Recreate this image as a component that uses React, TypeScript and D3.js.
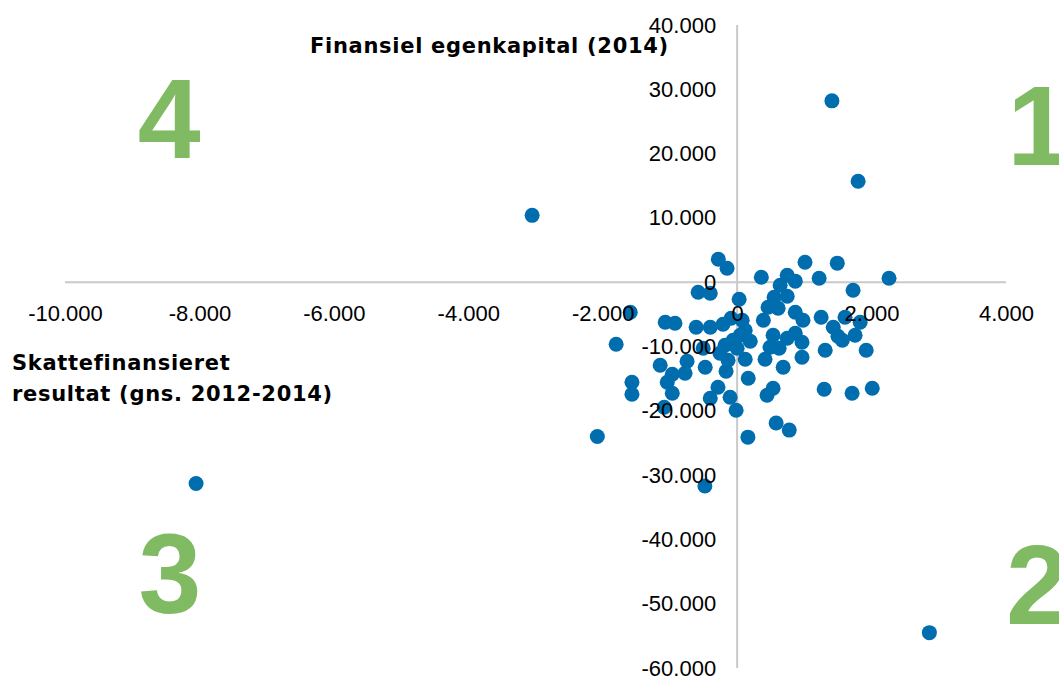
import { useEffect, useRef } from "react";
import * as d3 from "d3";

// Skattefinansieret resultat (gns. 2012-2014), kr. pr. indbygger
const resultat = [
  1410, 1800, -3050, -8050, 2860, -2080, -480, 160, 580, 775,
  -280, -150, 360, 745, 865, 1010, 1220, 1490, 2260, 640, 1725,
  -580, -400, 30, 550, 745,
  -1590, 460, 610, 865, 980, 390, 75, -90, -210, -400, -610, -925, -1070,
  1250, 1605, 1830, 1430, 1500, 1755, 1565,
  -1800,
  535, 865, 745, 965, 490, 625, 1310, 1920,
  120, 45, -60, 195, 0, -180, -255, -505,
  120, 415, 965, -135,
  685, -1145, -745, -475, -965, -775, -1040, -165, 165,
  -1565, -1565, -965, -285, -400, -105, -15, -1085,
  535, 445, 1295, 1710, 2010,
];

// Finansiel egenkapital (2014), kr. pr. indbygger
const egenkapital = [
  28200, 15700, 10400, -31300, -54500, -24000, -31700, -24100, -21900, -23000,
  3580, 2180, 780, 1090, 160, 3110, 620, 2960, 620, -470, -1250,
  -1560, -1710, -2650, -2340, -2180,
  -4670, -3890, -4050, -4670, -5910, -5910, -5910, -5600, -6540, -7000, -7000, -6380, -6230,
  -5450, -5450, -6230, -7000, -8400, -8250, -9030,
  -9650,
  -8250, -7940, -8720, -9340, -10120, -10270, -10580, -10580,
  -7470, -8250, -9030, -9180, -10270, -9800, -11050, -10270,
  -11980, -11980, -11670, -12140,
  -13230, -12920, -12300, -13230, -14320, -14160, -15560, -13850, -14940,
  -15560, -17430, -17280, -16340, -18050, -17900, -19920, -19450,
  -16500, -17590, -16650, -17280, -16500,
];

const xTicks = [-10000, -8000, -6000, -4000, -2000, 0, 2000, 4000];
const yTicks = [40000, 30000, 20000, 10000, 0, -10000, -20000, -30000, -40000, -50000, -60000];

const quadrants = [
  { label: "1", x: 4020, y: 18200, anchor: "start" },
  { label: "2", x: 4000, y: -53200, anchor: "start" },
  { label: "3", x: -8440, y: -51500, anchor: "middle" },
  { label: "4", x: -8450, y: 19300, anchor: "middle" },
];

const da = d3.formatLocale({
  decimal: ",",
  thousands: ".",
  grouping: [3],
  currency: ["", ""],
  minus: "-",
});
const fmt = da.format(",d");

export default function App() {
  const svgRef = useRef<SVGSVGElement>(null);

  useEffect(() => {
    if (!svgRef.current) return;
    const svg = d3.select(svgRef.current);
    svg.selectAll("*").remove();

    const x = d3.scaleLinear().domain([-10000, 4000]).range([65, 1006]);
    const y = d3.scaleLinear().domain([-60000, 40000]).range([668, 25]);

    const axisColor = "#c9c9c9";
    const tickFont = "'Liberation Sans', Arial, sans-serif";
    const titleFont = "'DejaVu Sans', Verdana, sans-serif";

    // quadrant numbers
    svg
      .append("g")
      .selectAll("text")
      .data(quadrants)
      .enter()
      .append("text")
      .attr("x", (d) => x(d.x))
      .attr("y", (d) => y(d.y))
      .attr("text-anchor", (d) => d.anchor)
      .style("font-family", "'Liberation Sans', Arial, sans-serif")
      .style("font-weight", "bold")
      .style("font-size", "113px")
      .style("fill", "#80bb64")
      .text((d) => d.label);

    // axis lines (behind the dots)
    svg
      .append("line")
      .attr("x1", x.range()[0])
      .attr("x2", x.range()[1])
      .attr("y1", y(0))
      .attr("y2", y(0))
      .style("stroke", axisColor)
      .style("stroke-width", 2);
    svg
      .append("line")
      .attr("x1", x(0))
      .attr("x2", x(0))
      .attr("y1", y.range()[0])
      .attr("y2", y.range()[1])
      .style("stroke", axisColor)
      .style("stroke-width", 2);

    // data points
    svg
      .append("g")
      .selectAll("circle")
      .data(resultat.map((r, i) => [r, egenkapital[i]]))
      .enter()
      .append("circle")
      .attr("cx", (d) => x(d[0]))
      .attr("cy", (d) => y(d[1]))
      .attr("r", 7.5)
      .style("fill", "#006dae");

    // tick labels on top of the dots
    const gx = svg
      .append("g")
      .attr("transform", `translate(0,${y(0)})`)
      .call(
        d3
          .axisBottom(x)
          .tickValues(xTicks)
          .tickSize(0)
          .tickPadding(23)
          .tickFormat((d) => fmt(d as number))
      );
    const gy = svg
      .append("g")
      .attr("transform", `translate(${x(0)},0)`)
      .call(
        d3
          .axisLeft(y)
          .tickValues(yTicks)
          .tickSize(0)
          .tickPadding(21)
          .tickFormat((d) => fmt(d as number))
      );
    [gx, gy].forEach((g) => {
      g.select(".domain").remove();
      g.selectAll("text")
        .style("font-family", tickFont)
        .style("font-size", "22px")
        .style("fill", "#000");
    });

    // axis titles
    const titles = svg
      .append("g")
      .style("font-family", titleFont)
      .style("font-weight", "bold")
      .style("font-size", "21px")
      .style("letter-spacing", "0.7px")
      .style("fill", "#000");
    titles.append("text").attr("x", 310).attr("y", 53).text("Finansiel egenkapital (2014)");
    titles.append("text").attr("x", 12).attr("y", 370).text("Skattefinansieret");
    titles.append("text").attr("x", 12).attr("y", 401).text("resultat (gns. 2012-2014)");
  }, []);

  return (
    <svg
      ref={svgRef}
      width={1059}
      height={679}
      style={{ position: "absolute", left: 0, top: 0, background: "#fff" }}
    ></svg>
  );
}
